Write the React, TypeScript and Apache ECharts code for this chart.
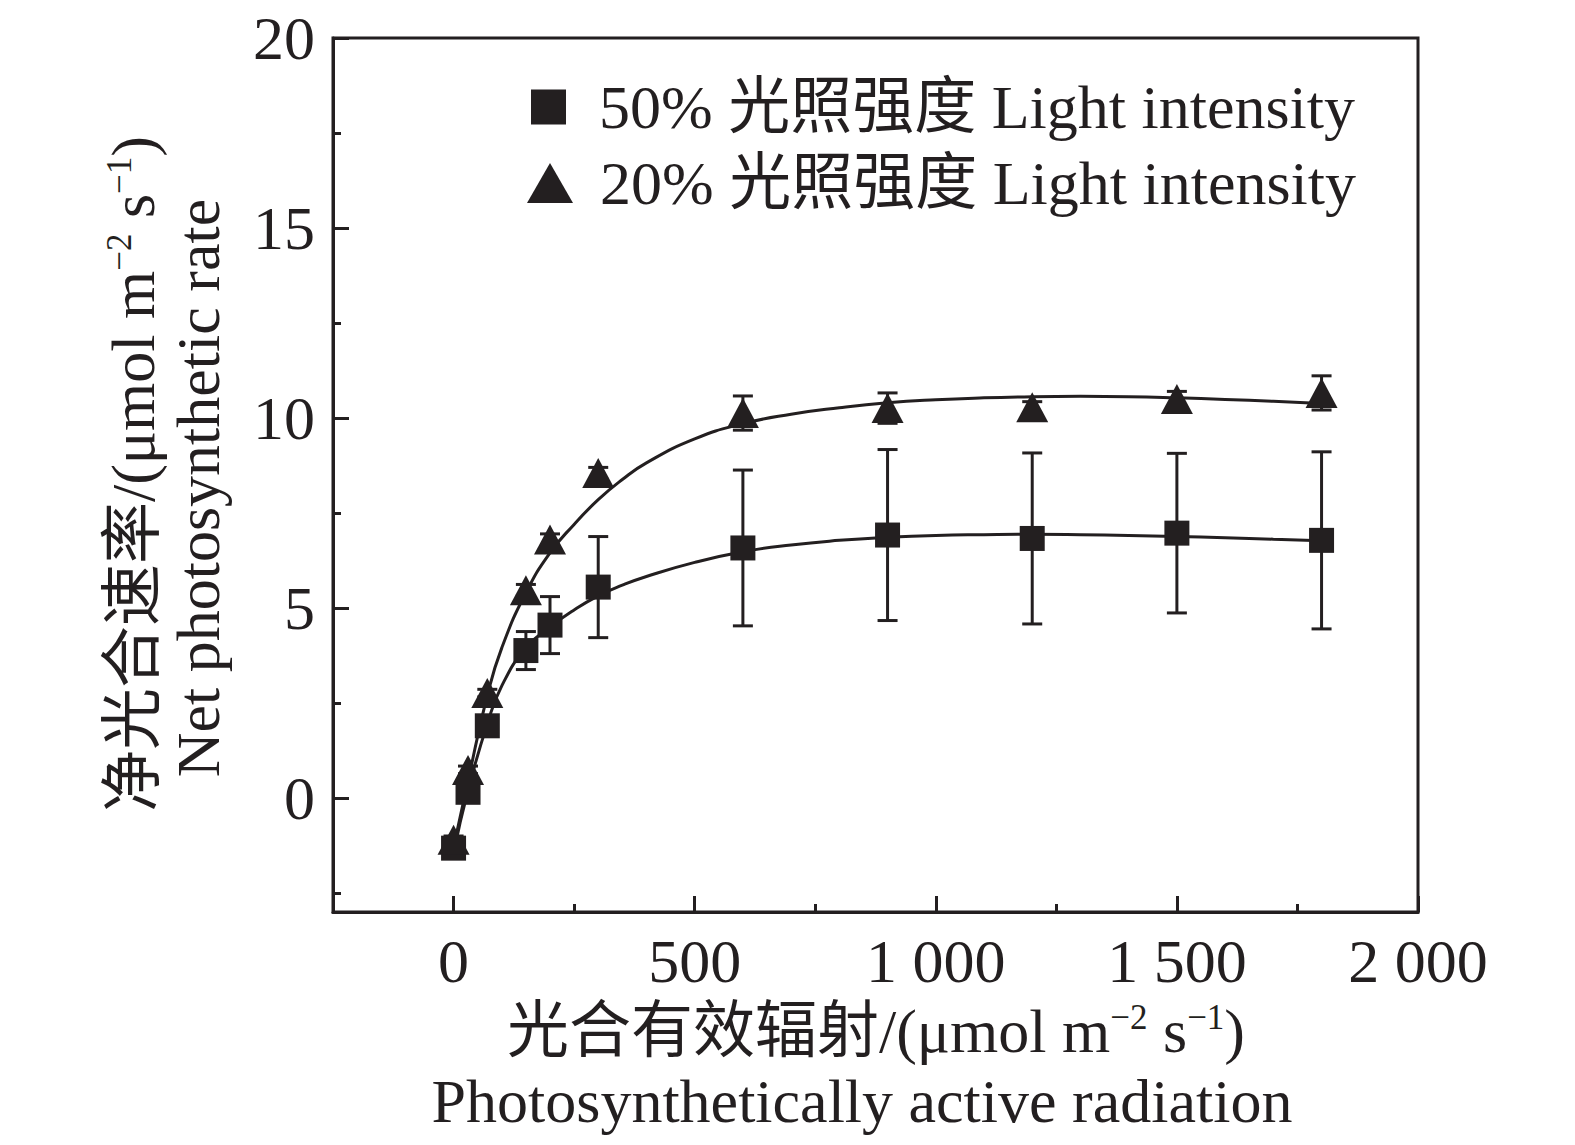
import { useEffect, useRef } from 'react'
import * as echarts from 'echarts'

// 光合有效辐射 (x) values
const parX = [0, 30, 70, 150, 200, 300, 600, 900, 1200, 1500, 1800]
// 50% light intensity: means and error (±)
const mean50 = [-1.32, 0.15, 1.9, 3.88, 4.55, 5.55, 6.58, 6.92, 6.83, 6.97, 6.78]
const err50 = [0.1, 0.1, 0.15, 0.5, 0.75, 1.33, 2.05, 2.25, 2.25, 2.1, 2.33]
// 20% light intensity
const mean20 = [-1.1, 0.74, 2.76, 5.47, 6.8, 8.55, 10.13, 10.26, 10.28, 10.5, 10.66]
const err20 = [0.1, 0.1, 0.1, 0.15, 0.15, 0.15, 0.45, 0.4, 0.15, 0.2, 0.45]

// fitted curves
const fitX = [0, 30, 70, 100, 150, 200, 250, 300, 350, 400, 500, 600, 700, 800, 900, 1000, 1100, 1200, 1300, 1400, 1500, 1600, 1700, 1800]
const fit50 = [-1.45, 0.2, 1.95, 2.95, 3.95, 4.5, 4.95, 5.32, 5.6, 5.83, 6.2, 6.48, 6.66, 6.78, 6.86, 6.91, 6.93, 6.94, 6.93, 6.91, 6.88, 6.85, 6.81, 6.77]
const fit20 = [-1.3, 0.45, 2.7, 3.95, 5.4, 6.45, 7.2, 7.85, 8.38, 8.82, 9.45, 9.85, 10.1, 10.27, 10.4, 10.48, 10.53, 10.56, 10.57, 10.56, 10.53, 10.49, 10.44, 10.38]

const name50 = '50% 光照强度 Light intensity'
const name20 = '20% 光照强度 Light intensity'

const INK = '#231f20'
const FONT = "'Liberation Serif', 'Times New Roman', 'Noto Sans CJK SC', serif"
const FS = 62

function fmtThousands(v: number) {
  if (v >= 1000) return `${Math.floor(v / 1000)} ${String(v % 1000).padStart(3, '0')}`
  return String(v)
}

function errorSeries(means: number[], errs: number[]) {
  return {
    type: 'custom',
    xAxisIndex: 0,
    yAxisIndex: 0,
    silent: true,
    z: 3,
    data: parX.map((x, i) => [x, means[i] - errs[i], means[i] + errs[i]]),
    encode: { x: 0, y: [1, 2] },
    renderItem: (_params: any, api: any) => {
      const x = api.value(0)
      const top = api.coord([x, api.value(2)])
      const bot = api.coord([x, api.value(1)])
      const w = 10
      const style = { stroke: INK, lineWidth: 3 }
      return {
        type: 'group',
        children: [
          { type: 'line', shape: { x1: top[0], y1: top[1], x2: bot[0], y2: bot[1] }, style },
          { type: 'line', shape: { x1: top[0] - w, y1: top[1], x2: top[0] + w, y2: top[1] }, style },
          { type: 'line', shape: { x1: bot[0] - w, y1: bot[1], x2: bot[0] + w, y2: bot[1] }, style },
        ],
      }
    },
  }
}

function fitSeries(vals: number[]) {
  return {
    type: 'line',
    xAxisIndex: 0,
    yAxisIndex: 0,
    data: fitX.map((x, i) => [x, vals[i]]),
    smooth: true,
    showSymbol: false,
    silent: true,
    lineStyle: { color: INK, width: 3 },
    z: 2,
  }
}

const sup = { fontSize: 35, verticalAlign: 'top', fontFamily: FONT, fill: INK }

export default function App() {
  const chartRef = useRef<HTMLDivElement>(null)

  useEffect(() => {
    if (!chartRef.current) return
    document.body.style.margin = '0'
    document.body.style.overflow = 'hidden'
    const chart = echarts.init(chartRef.current, undefined, { renderer: 'svg' })

    const tickStyle = { color: INK, width: 3 }
    const hiddenAxis = {
      axisLine: { show: false },
      axisTick: { show: false },
      axisLabel: { show: false },
      splitLine: { show: false },
    }

    chart.setOption({
      animation: false,
      backgroundColor: '#ffffff',
      textStyle: { fontFamily: FONT },
      grid: {
        left: 333,
        top: 38,
        right: 157,
        bottom: 233,
        show: true,
        borderColor: INK,
        borderWidth: 3,
        outerBoundsMode: 'none',
      },
      legend: [
        {
          data: [{ name: name50, icon: 'rect' }],
          left: 531,
          top: 76,
          padding: 0,
          itemWidth: 35,
          itemHeight: 35,
          textStyle: { fontSize: FS, lineHeight: 62, color: INK, fontFamily: FONT, padding: [0, 0, 0, 28] },
        },
        {
          data: [{ name: name20, icon: 'triangle' }],
          left: 527,
          top: 152,
          padding: 0,
          itemWidth: 46,
          itemHeight: 40,
          textStyle: { fontSize: FS, lineHeight: 62, color: INK, fontFamily: FONT, padding: [0, 0, 0, 22] },
        },
      ],
      xAxis: [
        { type: 'value', min: -250, max: 2000, position: 'top', ...hiddenAxis },
        {
          // decoration axis: value u = 2000 - x, so ticks fall on 0, 500, ... 2000
          type: 'value',
          position: 'bottom',
          inverse: true,
          min: 0,
          max: 2250,
          interval: 500,
          axisLine: { show: true, onZero: false, lineStyle: tickStyle },
          axisTick: { show: true, inside: true, length: 16, lineStyle: tickStyle },
          minorTick: { show: true, splitNumber: 2, length: 8, lineStyle: tickStyle },
          splitLine: { show: false },
          axisLabel: {
            color: INK,
            fontSize: FS,
            fontFamily: FONT,
            margin: 18,
            formatter: (u: number) => {
              const d = 2000 - u
              return d < 0 ? '' : fmtThousands(d)
            },
          },
        },
      ],
      yAxis: [
        { type: 'value', min: -3, max: 20, position: 'right', ...hiddenAxis },
        {
          // decoration axis: value v = 20 - y
          type: 'value',
          position: 'left',
          inverse: true,
          min: 0,
          max: 23,
          interval: 5,
          axisLine: { show: true, onZero: false, lineStyle: tickStyle },
          axisTick: { show: true, inside: true, length: 16, lineStyle: tickStyle },
          minorTick: { show: true, splitNumber: 2, length: 8, lineStyle: tickStyle },
          splitLine: { show: false },
          axisLabel: {
            color: INK,
            fontSize: FS,
            fontFamily: FONT,
            margin: 18,
            formatter: (v: number) => {
              const d = 20 - v
              return d < 0 ? '' : String(d)
            },
          },
        },
      ],
      graphic: [
        {
          type: 'text',
          x: 876,
          y: 1031,
          style: {
            text: '光合有效辐射/(μmol m{sup|−2} s{sup|−1})',
            fontSize: FS,
            fontFamily: FONT,
            fill: INK,
            align: 'center',
            verticalAlign: 'middle',
            rich: { sup },
          },
        },
        {
          type: 'text',
          x: 862,
          y: 1101,
          style: {
            text: 'Photosynthetically active radiation',
            fontSize: FS,
            fontFamily: FONT,
            fill: INK,
            align: 'center',
            verticalAlign: 'middle',
          },
        },
        {
          type: 'text',
          x: 133,
          y: 474,
          rotation: Math.PI / 2,
          style: {
            text: '净光合速率/(μmol m{sup|−2} s{sup|−1})',
            fontSize: FS,
            fontFamily: FONT,
            fill: INK,
            align: 'center',
            verticalAlign: 'middle',
            rich: { sup },
          },
        },
        {
          type: 'text',
          x: 198,
          y: 488,
          rotation: Math.PI / 2,
          style: {
            text: 'Net photosynthetic rate',
            fontSize: FS,
            fontFamily: FONT,
            fill: INK,
            align: 'center',
            verticalAlign: 'middle',
          },
        },
      ],
      series: [
        fitSeries(fit50),
        fitSeries(fit20),
        errorSeries(mean50, err50),
        errorSeries(mean20, err20),
        {
          name: name50,
          type: 'scatter',
          xAxisIndex: 0,
          yAxisIndex: 0,
          symbol: 'rect',
          symbolSize: 25,
          itemStyle: { color: INK, opacity: 1 },
          data: parX.map((x, i) => [x, mean50[i]]),
          z: 4,
        },
        {
          name: name20,
          type: 'scatter',
          xAxisIndex: 0,
          yAxisIndex: 0,
          symbol: 'triangle',
          symbolSize: [32, 30],
          itemStyle: { color: INK, opacity: 1 },
          data: parX.map((x, i) => [x, mean20[i]]),
          z: 5,
        },
      ],
    })

    return () => {
      chart.dispose()
    }
  }, [])

  return <div ref={chartRef} style={{ width: 1575, height: 1145 }} />
}
